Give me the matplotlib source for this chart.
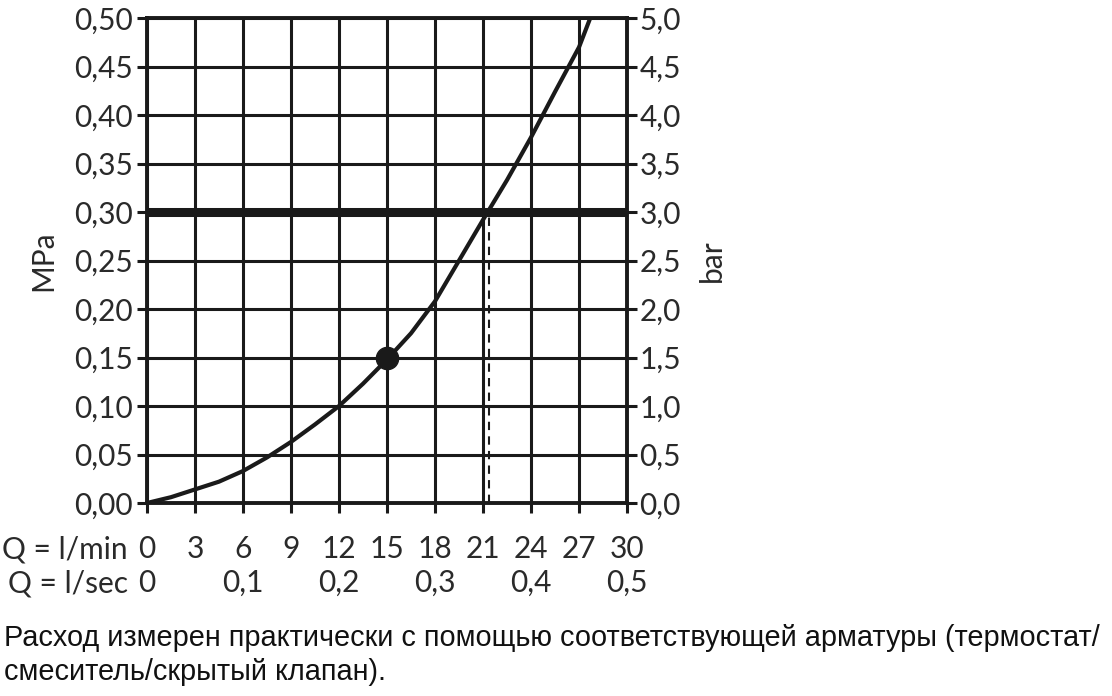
import numpy as np
import matplotlib.pyplot as plt

# flow (l/min) vs pressure (MPa)
flow = [0, 1.5, 3, 4.5, 6, 7.5, 9, 10.5, 12, 13.5, 15, 16.5, 18, 19.5, 21, 22.5, 24, 25.5, 27, 27.7]
pressure = [0, 0.006, 0.014, 0.022, 0.033, 0.047, 0.063, 0.081, 0.100, 0.123, 0.148, 0.175,
            0.208, 0.250, 0.292, 0.333, 0.377, 0.424, 0.470, 0.500]

point_q, point_p = 15, 0.15
limit_p = 0.30
limit_q = 21.4

mpa_ticks = [0, 0.05, 0.10, 0.15, 0.20, 0.25, 0.30, 0.35, 0.40, 0.45, 0.50]
bar_ticks = [0, 0.5, 1.0, 1.5, 2.0, 2.5, 3.0, 3.5, 4.0, 4.5, 5.0]
lmin_ticks = [0, 3, 6, 9, 12, 15, 18, 21, 24, 27, 30]
lsec_pos = [0, 6, 12, 18, 24, 30]
lsec_labels = ["0", "0,1", "0,2", "0,3", "0,4", "0,5"]

footer = ("Расход измерен практически с помощью соответствующей арматуры (термостат/\n"
          "смеситель/скрытый клапан).")

tick_font = dict(family="Lato", fontsize=21.5, color="#2a2a2a")

fig = plt.figure(figsize=(11.12, 6.96), dpi=100)
ax = fig.add_axes([0.1322, 0.2773, 0.4317, 0.6968])

ax.set_xlim(0, 30)
ax.set_ylim(0, 0.5)
ax.set_xticks(lmin_ticks)
ax.set_yticks(mpa_ticks)
ax.grid(True, color="#1a1a1a", linewidth=2.2)
ax.set_axisbelow(True)
for s in ax.spines.values():
    s.set_linewidth(2.8)
    s.set_color("#1a1a1a")
    s.set_zorder(1)

ax.axhline(limit_p, color="#1a1a1a", linewidth=6.5, zorder=3)
ax.plot([limit_q, limit_q], [0, limit_p], color="#1a1a1a", linewidth=1.5,
        linestyle=(0, (4, 3)), zorder=3)
ax.plot(flow, pressure, color="#1a1a1a", linewidth=3.0, solid_capstyle="butt", zorder=4)
ax.plot([point_q], [point_p], "o", color="#1a1a1a", markersize=16, zorder=5)

ax.tick_params(axis="both", direction="out", length=7, width=2.2, color="#1a1a1a")
ax.tick_params(axis="y", pad=3)
ax.set_yticklabels([f"{v:.2f}".replace(".", ",") for v in mpa_ticks], **tick_font)
ax.set_xticklabels([])

trans = ax.get_xaxis_transform()
for q in lmin_ticks:
    ax.text(q, -0.095, str(q), ha="center", va="center", transform=trans, **tick_font)
for q, lab in zip(lsec_pos, lsec_labels):
    ax.text(q, -0.165, lab, ha="center", va="center", transform=trans, **tick_font)
ax.text(-0.04, -0.095, "Q = l/min", ha="right", va="center", transform=ax.transAxes, **tick_font)
ax.text(-0.04, -0.165, "Q = l/sec", ha="right", va="center", transform=ax.transAxes, **tick_font)

ax.set_ylabel("MPa", fontsize=21.5, family="Lato", color="#2a2a2a", labelpad=12)

ax2 = ax.twinx()
ax2.set_ylim(0, 5)
ax2.set_yticks(bar_ticks)
ax2.set_yticklabels([f"{v:.1f}".replace(".", ",") for v in bar_ticks], **tick_font)
ax2.tick_params(axis="y", direction="out", length=7, width=2.2, color="#1a1a1a", pad=2)
for s in ax2.spines.values():
    s.set_visible(False)
ax2.set_ylabel("bar", fontsize=21.5, family="Lato", color="#2a2a2a", labelpad=12)

fig.text(0.004, 0.059, footer, ha="left", va="center", fontsize=20.8,
         family="Liberation Sans", color="#111111", linespacing=1.25)

fig.savefig("out.png", dpi=100)
